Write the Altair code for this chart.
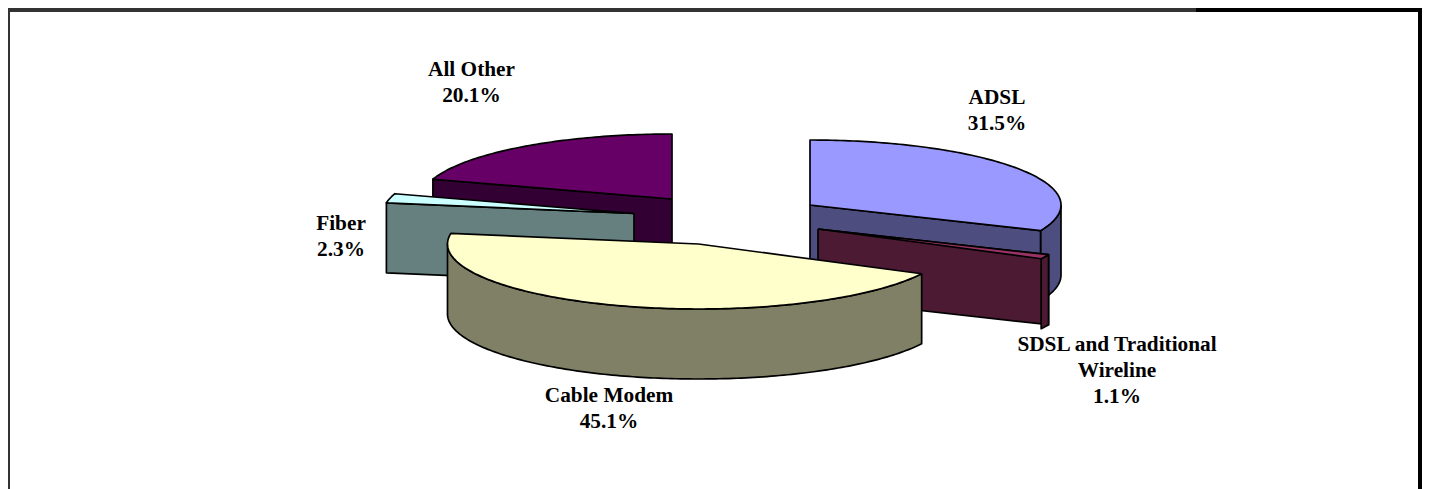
import math
import altair as alt
import pandas as pd

# --- chart values -----------------------------------------------------------
NAMES = ["ADSL", "SDSL and Traditional Wireline", "Cable Modem", "Fiber", "All Other"]
SHARES = [31.5, 1.1, 45.1, 2.3, 20.1]
TOP_COLORS = ["#9999FF", "#993366", "#FFFFCC", "#CCFFFF", "#660066"]
SIDE_COLORS = ["#4D4D80", "#4D1A33", "#808066", "#668080", "#330033"]
LABEL_LINES = [
    ["ADSL", "31.5%"],
    ["SDSL and Traditional", "Wireline", "1.1%"],
    ["Cable Modem", "45.1%"],
    ["Fiber", "2.3%"],
    ["All Other", "20.1%"],
]

# --- layout of the tilted, exploded pie (page pixels) ---------------------------
W, H = 1414, 481
RX, RY, DEPTH = 251, 65, 70
APEX = [(810, 205), (818, 229), (698.5, 244), (634, 213.5), (672, 199)]
LABEL_POS = [(997, 97.5), (1117, 344.5), (609, 396), (341, 224), (471.5, 69.5)]
LINE_STEP = 26
FONT_SIZE = 21.3

X = alt.Scale(domain=[8, 1422], nice=False, zero=False)
Y = alt.Scale(domain=[489, 8], nice=False, zero=False)

# slice angles, clockwise from twelve o'clock, from the shares
starts, run = [], 0.0
for s in SHARES:
    starts.append(run / sum(SHARES) * 360)
    run += s
ends = [a + s / sum(SHARES) * 360 for a, s in zip(starts, SHARES)]


def rim(i, a, drop=0):
    x0, y0 = APEX[i]
    r = math.radians(a)
    return (x0 + RX * math.sin(r), y0 - RY * math.cos(r) + drop)


def arc(i, a, b, drop=0):
    n = max(2, int(abs(b - a)) + 1)
    return [rim(i, a + (b - a) * k / n, drop) for k in range(n + 1)]


def poly(points, fill):
    pts = list(points) + [points[0]]
    df = pd.DataFrame({"x": [p[0] for p in pts], "y": [p[1] for p in pts], "o": range(len(pts))})
    return alt.Chart(df).mark_line(
        filled=True, fill=fill, stroke="black", strokeWidth=1.7, strokeJoin="round"
    ).encode(
        x=alt.X("x:Q", scale=X, axis=None),
        y=alt.Y("y:Q", scale=Y, axis=None),
        order="o:Q",
    )


def cut(i, a):
    x0, y0 = APEX[i]
    p = rim(i, a)
    return [(x0, y0), p, (p[0], p[1] + DEPTH), (x0, y0 + DEPTH)]


def outer(i, a, b):
    return arc(i, a, b) + arc(i, b, a, DEPTH)


def top(i):
    return [APEX[i]] + arc(i, starts[i], ends[i])


ADSL, SDSL, CABLE, FIBER, OTHER = range(5)
layers = [
    poly(cut(OTHER, starts[OTHER]), SIDE_COLORS[OTHER]),
    poly(top(OTHER), TOP_COLORS[OTHER]),
    poly(cut(FIBER, starts[FIBER]), SIDE_COLORS[FIBER]),
    poly(top(FIBER), TOP_COLORS[FIBER]),
    poly(outer(ADSL, 90, ends[ADSL]), SIDE_COLORS[ADSL]),
    poly(cut(ADSL, ends[ADSL]), SIDE_COLORS[ADSL]),
    poly(top(ADSL), TOP_COLORS[ADSL]),
    poly(cut(SDSL, starts[SDSL]), SIDE_COLORS[SDSL]),
    poly(outer(SDSL, starts[SDSL], ends[SDSL]), SIDE_COLORS[SDSL]),
    poly(top(SDSL), TOP_COLORS[SDSL]),
    poly(outer(CABLE, starts[CABLE], 270), SIDE_COLORS[CABLE]),
    poly(top(CABLE), TOP_COLORS[CABLE]),
]

# labels
rows = []
for lines, (lx, ly) in zip(LABEL_LINES, LABEL_POS):
    for k, t in enumerate(lines):
        rows.append({"x": lx, "y": ly + k * LINE_STEP, "t": t})
labels = alt.Chart(pd.DataFrame(rows)).mark_text(
    font="Liberation Serif", fontWeight="bold", fontSize=FONT_SIZE, color="black",
    align="center", baseline="middle",
).encode(
    x=alt.X("x:Q", scale=X, axis=None),
    y=alt.Y("y:Q", scale=Y, axis=None),
    text="t:N",
)

# frame
FRAME = [
    (8, 10, 1196, 10, "#333333"),
    (1196, 10, 1422, 10, "#000000"),
    (8, 8, 8, 489, "#333333"),
    (1420, 8, 1420, 489, "#000000"),
]
frame_layers = []
for x1, y1, x2, y2, c in FRAME:
    df = pd.DataFrame({"x": [x1], "x2": [x2], "y": [y1], "y2": [y2]})
    frame_layers.append(
        alt.Chart(df).mark_rule(color=c, strokeWidth=4).encode(
            x=alt.X("x:Q", scale=X, axis=None), x2="x2:Q",
            y=alt.Y("y:Q", scale=Y, axis=None), y2="y2:Q",
        )
    )

chart = alt.layer(*frame_layers, *layers, labels).properties(
    width=W, height=H, padding=0, autosize=alt.AutoSizeParams(type="none"),
    background="white",
).configure_view(stroke=None)

chart.save("out.html", embed_options={"renderer": "svg", "actions": False})
